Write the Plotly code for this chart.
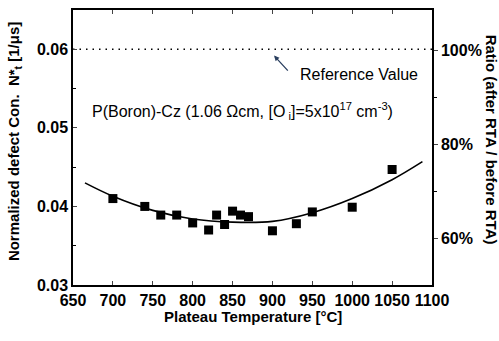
import plotly.graph_objects as go

# Measured data (Plateau temperature in °C, normalized defect concentration N*t in 1/us)
temps = [700, 740, 760, 780, 800, 820, 830, 840, 850, 860, 870, 900, 930, 950, 1000, 1050]
nt = [0.0410, 0.0400, 0.0389, 0.0389, 0.0379, 0.0370, 0.0389, 0.0377, 0.0394, 0.0389, 0.0387,
      0.0369, 0.0378, 0.0393, 0.0399, 0.0447]

# Fitted curve
fit_x = [665, 700, 750, 800, 850, 900, 950, 1000, 1050, 1088]
fit_y = [0.0430, 0.0413, 0.0395, 0.0384, 0.0380, 0.0381, 0.0392, 0.0410, 0.0434, 0.0457]

# Reference value line
ref_x = [650, 1100]
ref_y = [0.06, 0.06]

x_ticks = [650, 700, 750, 800, 850, 900, 950, 1000, 1050, 1100]
y_ticks = [0.03, 0.04, 0.05, 0.06]
y_tick_labels = ["0.03", "0.04", "0.05", "0.06"]
ratio_ticks = [60, 80, 100]
ratio_labels = ["60%", "80%", "100%"]

FONT = "Liberation Sans"
tickfont = dict(family=FONT, size=16, color="black", weight="bold")

fig = go.Figure()
fig.add_trace(go.Scatter(x=ref_x, y=ref_y, mode="lines",
                         line=dict(color="black", width=1.5, dash="1.5px,5px"), showlegend=False))
fig.add_trace(go.Scatter(x=fit_x, y=fit_y, mode="lines", line_shape="spline",
                         line=dict(color="black", width=1.6), showlegend=False))
fig.add_trace(go.Scatter(x=temps, y=nt, mode="markers",
                         marker=dict(symbol="square", size=9, color="black"), showlegend=False))
# invisible trace to activate right axis
fig.add_trace(go.Scatter(x=[650], y=[60], yaxis="y2", mode="markers",
                         marker=dict(opacity=0), showlegend=False, hoverinfo="skip"))

fig.update_layout(
    width=499, height=341,
    margin=dict(l=73, r=67, t=8, b=56),
    plot_bgcolor="white", paper_bgcolor="white",
    font=dict(family=FONT, color="black"),
    xaxis=dict(range=[650, 1100], tickvals=x_ticks, ticks="inside", ticklen=4,
               tickwidth=1.3, showline=True, linecolor="black", linewidth=1.5,
               mirror="ticks", showgrid=False, zeroline=False, tickfont=tickfont),
    yaxis=dict(range=[0.03, 0.065], tickvals=y_ticks, ticktext=y_tick_labels,
               ticks="inside", ticklen=4, tickwidth=1.3,
               minor=dict(tickvals=[0.035, 0.045, 0.055], ticks="inside", ticklen=3,
                          tickcolor="black"),
               showline=True, linecolor="black", linewidth=1.5, showgrid=False,
               zeroline=False, tickfont=tickfont),
    yaxis2=dict(overlaying="y", side="right", range=[50, 108.6],
                tickvals=ratio_ticks, ticktext=ratio_labels, ticks="outside",
                ticklen=4, tickwidth=1.3,
                minor=dict(tickvals=[70, 90], ticks="outside", ticklen=3, tickcolor="black"),
                showline=True, linecolor="black", linewidth=1.5, showgrid=False,
                zeroline=False, tickfont=tickfont),
)

fig.add_annotation(x=0.5, y=-0.116, xref="paper", yref="paper", showarrow=False,
                   text="Plateau Temperature [°C]", font=dict(size=15, weight="bold"),
                   xanchor="center", yanchor="middle")
fig.add_annotation(x=-0.164, y=0.52, xref="paper", yref="paper", showarrow=False,
                   text="Normalized defect Con.  N*<sub>t</sub> [1/μs]", textangle=-90,
                   font=dict(size=15, weight="bold"), xanchor="center", yanchor="middle")
fig.add_annotation(x=1.166, y=0.53, xref="paper", yref="paper", showarrow=False,
                   text="Ratio (after RTA / before RTA)", textangle=90,
                   font=dict(size=15, weight="bold"), xanchor="center", yanchor="middle")
fig.add_annotation(x=671, y=0.0521, xref="x", yref="y", showarrow=False, xanchor="left",
                   text="P(Boron)-Cz (1.06 Ωcm, [O<sub> i</sub>]=5x10<sup>17</sup> cm<sup>-3</sup>)",
                   font=dict(size=16))
fig.add_annotation(x=932, y=0.0568, xref="x", yref="y", showarrow=False, xanchor="left",
                   text="Reference Value", font=dict(size=16))
fig.add_annotation(x=902, y=0.0592, ax=921, ay=0.0571, xref="x", yref="y",
                   axref="x", ayref="y", showarrow=True, arrowhead=2, arrowsize=0.8,
                   arrowwidth=1.3, text="")

fig.write_html("out.html", post_script="document.body.style.margin='0';",
               config={"displayModeBar": False})
